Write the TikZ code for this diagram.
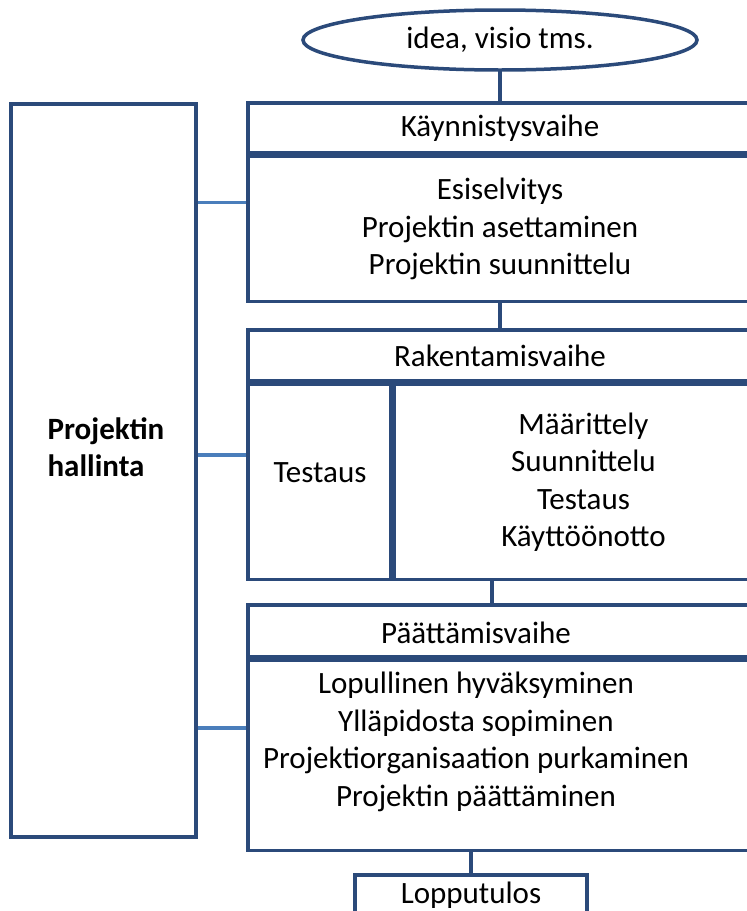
\documentclass[tikz,border=0pt]{standalone}
\usepackage{fontspec}
\setmainfont{Carlito}
\usepackage{tikz}
\usetikzlibrary{positioning,shapes.geometric,fit}
\definecolor{boxblue}{HTML}{2B4A7A}
\definecolor{linkblue}{HTML}{4A7EBB}
\newcommand{\diagfont}{\fontsize{31}{37.5}\selectfont}
\tikzset{
  phasebox/.style={draw=boxblue, line width=3.5pt, rectangle, minimum width=504pt,
    inner sep=0pt, align=center},
  txt/.style={inner sep=0pt, align=center},
  link/.style={draw=boxblue, line width=3.5pt},
  sidelink/.style={draw=linkblue, line width=3.5pt}
}
\begin{document}
\begin{tikzpicture}[x=1pt, y=-1pt, font=\diagfont]
\useasboundingbox (0,0) rectangle (747,911);
\clip (0,0) rectangle (747,911);

% Start
\node[draw=boxblue, line width=3.5pt, ellipse, minimum width=394pt, minimum height=60pt, inner sep=0pt] (idea) at (500,40) {idea, visio tms.};

% Phases
\node[phasebox, minimum height=50pt] (kv) at (500,128) {Käynnistysvaihe};
\node[phasebox, minimum height=145pt, anchor=north] (kb) at (kv.south) {Esiselvitys\\Projektin asettaminen\\Projektin suunnittelu};

\node[phasebox, minimum height=51pt] (rv) at (500,355.5) {Rakentamisvaihe};
\node[phasebox, minimum width=143pt, minimum height=195pt, anchor=north west] (rt) at (rv.south west) {};
\node[phasebox, minimum width=378pt, minimum height=195pt, anchor=north west] (rb) at (rt.north east) {Määrittely\\Suunnittelu\\Testaus\\Käyttöönotto};
\node[txt] (rtt) at (320,473) {Testaus};

\node[phasebox, minimum height=52pt] (pv) at (500,631) {};
\node[phasebox, minimum height=190pt, anchor=north] (pb) at (pv.south) {};
\node[txt] (pvt) at (476,633) {Päättämisvaihe};
\node[txt] (pbt) at (476,742) {Lopullinen hyväksyminen\\Ylläpidosta sopiminen\\Projektiorganisaation purkaminen\\Projektin päättäminen};

\node[phasebox, minimum width=232pt, minimum height=40pt] (lt) at (471,895) {Lopputulos};

% Management
\node[draw=boxblue, line width=3.5pt, minimum width=185pt, minimum height=733pt, inner sep=0pt] (ph) at (103.5,470.5) {};
\node[txt, align=left] (pht) at (106,447) {\textbf{Projektin}\\\textbf{hallinta}};

% Links
\node[fit=(kv)(kb), inner sep=0pt] (k) {};
\node[fit=(rv)(rt), inner sep=0pt] (r) {};
\node[fit=(pv)(pb), inner sep=0pt] (p) {};
\draw[link] (idea) -- (kv);
\draw[link] (kb) -- (rv);
\draw[link] ([xshift=-8pt]pv.north |- rb.south) -- ([xshift=-8pt]pv.north);
\draw[link] (pb.south -| lt.north) -- (lt.north);
\draw[sidelink] (ph.east |- k.west) -- (k.west);
\draw[sidelink] (ph.east |- r.west) -- (r.west);
\draw[sidelink] (ph.east |- p.west) -- (p.west);
\end{tikzpicture}
\end{document}
